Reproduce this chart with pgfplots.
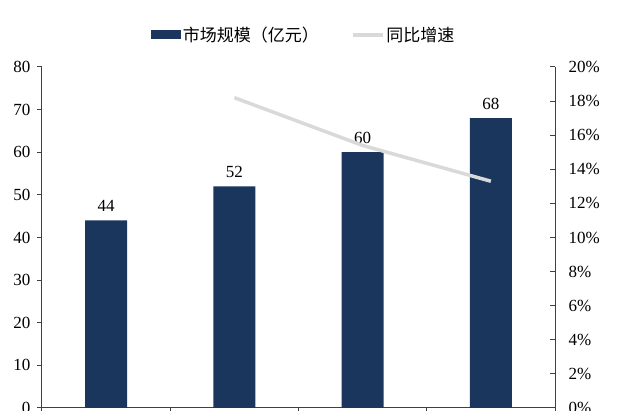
\documentclass[border=0pt]{standalone}
\usepackage{pgfplots}
\pgfplotsset{compat=1.18}
\usepackage{fontspec}
\setmainfont{Liberation Serif}
\newfontfamily\cjk{Noto Sans CJK SC}
\definecolor{barblue}{HTML}{1B365D}
\definecolor{linegray}{HTML}{D9D9D9}
\definecolor{axgray}{HTML}{404040}
\begin{document}
\begin{tikzpicture}[x=1pt,y=1pt]
\pgfplotsset{
  every axis/.append style={
    scale only axis, width=513pt, height=341pt,
    at={(42pt,3pt)}, anchor=south west,
    xmin=-0.5, xmax=3.5,
    tick label style={font=\fontsize{17}{20}\selectfont},
    /pgf/number format/assume math mode=true,
    major tick length=5pt,
    axis line style={axgray, line width=1pt},
    tick style={axgray, line width=1pt},
  }
}
\begin{axis}[
  axis y line*=left, axis x line*=bottom,
  tick align=outside,
  yticklabel style={xshift=-3pt},
  ymin=0, ymax=80, ytick={0,10,...,80},
  xtick={-0.5,0.5,1.5,2.5,3.5}, xticklabels={},
  legend columns=2,
  legend style={draw=none, at={(0.51,1)}, anchor=south, yshift=20pt,
    font=\cjk\fontsize{17}{20}\selectfont,
    /tikz/every even column/.append style={column sep=30pt}},
]
\addplot[ybar, bar width=42pt, fill=barblue, draw=none,
  nodes near coords, nodes near coords style={font=\fontsize{17}{20}\selectfont, black, yshift=5pt},
  legend image code/.code={\fill[barblue] (0pt,-4.5pt) rectangle (30pt,4.5pt);}]
  coordinates {(0,44) (1,52) (2,60) (3,68)};
\addlegendentry{市场规模（亿元）}
\addlegendimage{legend image code/.code={\draw[linegray, line width=3.5pt] (0pt,0pt) -- (30pt,0pt);}}
\addlegendentry{同比增速}
\end{axis}
\begin{axis}[
  axis y line*=right, axis x line=none,
  tick align=inside,
  yticklabel style={xshift=10pt},
  ymin=0, ymax=20, ytick={0,2,...,20},
  yticklabel={\pgfmathprintnumber{\tick}\%},
]
\addplot[linegray, line width=3.5pt, mark=none] coordinates {(1,18.2) (2,15.4) (3,13.3)};
\end{axis}
\pgfresetboundingbox
\path (0,0) rectangle (640,411);
\end{tikzpicture}
\end{document}
